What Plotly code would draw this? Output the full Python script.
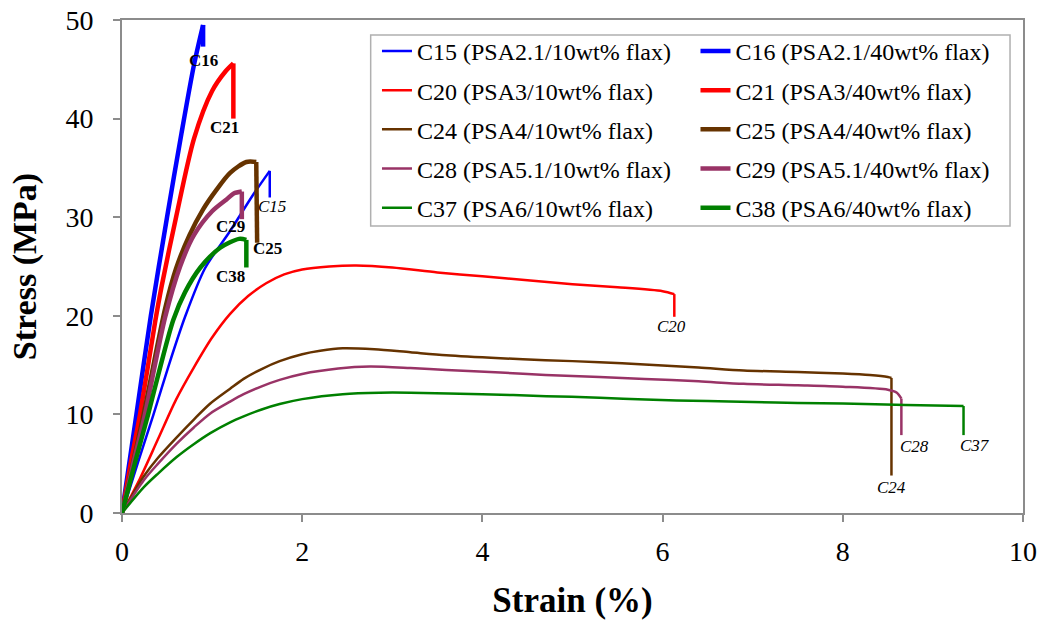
import plotly.graph_objects as go

# ---- data ----
c15_x = [0, 0.18, 0.35, 0.52, 0.70, 0.92, 1.2, 1.45, 1.64, 1.64]
c15_y = [0, 5.2, 10, 15, 19.9, 24.8, 28.6, 32.2, 34.7, 32.0]

c16_x = [0, 0.16, 0.32, 0.5, 0.66, 0.8, 0.9, 0.9]
c16_y = [0, 10, 20, 30, 38.5, 45.5, 49.5, 47.3]

c20_x = [0, 0.2, 0.4, 0.6, 0.8, 1.0, 1.2, 1.4, 1.6, 1.8, 2.0, 2.3, 2.6, 3.0, 3.5, 4.0, 4.5, 5.0, 5.5, 6.0, 6.13, 6.13]
c20_y = [0, 3.5, 7.5, 11.5, 14.8, 17.8, 20.2, 22.0, 23.3, 24.2, 24.7, 25.0, 25.1, 24.9, 24.4, 24.0, 23.6, 23.2, 22.9, 22.5, 22.2, 19.9]

c21_x = [0, 0.1, 0.2, 0.37, 0.44, 0.6, 0.8, 1.0, 1.15, 1.236, 1.236]
c21_y = [0, 5.2, 10, 19.5, 23, 30, 38, 42.8, 44.8, 45.6, 40.0]

c24_x = [0, 0.12, 0.24, 0.4, 0.61, 0.8, 0.98, 1.2, 1.35, 1.55, 1.75, 2.0, 2.2, 2.45, 2.8, 3.2, 3.6, 4.2, 4.7, 5.3, 5.8, 6.4, 6.9, 7.5, 8.0, 8.3, 8.5, 8.54, 8.54]
c24_y = [0, 1.9, 3.7, 5.6, 7.7, 9.5, 11.1, 12.6, 13.6, 14.6, 15.4, 16.1, 16.45, 16.7, 16.6, 16.3, 16.0, 15.7, 15.5, 15.3, 15.05, 14.75, 14.45, 14.3, 14.15, 14.0, 13.8, 13.7, 3.8]

c25_x = [0, 0.12, 0.24, 0.36, 0.48, 0.6, 0.75, 0.9, 1.05, 1.2, 1.38, 1.49, 1.50]
c25_y = [0, 5, 10, 15.5, 20.8, 24.8, 28.2, 30.8, 32.8, 34.5, 35.6, 35.6, 27.4]

c28_x = [0, 0.24, 0.4, 0.61, 0.8, 0.98, 1.2, 1.35, 1.55, 1.75, 2.0, 2.4, 2.75, 3.2, 3.6, 4.2, 4.7, 5.3, 5.8, 6.4, 6.9, 7.5, 8.0, 8.5, 8.6, 8.65, 8.65]
c28_y = [0, 3.3, 5.0, 7.06, 8.7, 10.1, 11.3, 12.05, 12.85, 13.5, 14.1, 14.65, 14.85, 14.7, 14.5, 14.25, 14.0, 13.8, 13.6, 13.35, 13.1, 12.95, 12.8, 12.5, 12.2, 11.6, 7.9]

c29_x = [0, 0.12, 0.255, 0.37, 0.48, 0.645, 0.8, 1.0, 1.16, 1.24, 1.33, 1.33]
c29_y = [0, 4.8, 10, 15.2, 19.9, 25.0, 28.2, 30.6, 31.8, 32.4, 32.6, 29.8]

c37_x = [0, 0.24, 0.4, 0.61, 0.8, 0.98, 1.2, 1.35, 1.55, 1.75, 2.0, 2.45, 2.86, 3.2, 4.0, 4.71, 5.3, 5.81, 6.5, 7.0, 7.5, 8.0, 8.7, 9.34, 9.34]
c37_y = [0, 2.6, 4.0, 5.7, 7.0, 8.1, 9.2, 9.8, 10.5, 11.05, 11.55, 12.05, 12.2, 12.2, 12.05, 11.85, 11.7, 11.5, 11.35, 11.25, 11.15, 11.1, 10.95, 10.85, 7.9]

c38_x = [0, 0.15, 0.29, 0.43, 0.57, 0.7, 0.87, 1.09, 1.3, 1.38, 1.38]
c38_y = [0, 5.3, 10, 15, 19.6, 22.4, 24.9, 26.9, 27.8, 27.7, 24.9]

names_10 = ["C15 (PSA2.1/10wt% flax)", "C20 (PSA3/10wt% flax)", "C24 (PSA4/10wt% flax)",
            "C28 (PSA5.1/10wt% flax)", "C37 (PSA6/10wt% flax)"]
names_40 = ["C16 (PSA2.1/40wt% flax)", "C21 (PSA3/40wt% flax)", "C25 (PSA4/40wt% flax)",
            "C29 (PSA5.1/40wt% flax)", "C38 (PSA6/40wt% flax)"]

# curve end labels: text, strain, stress, bold?
label_text = ["C16", "C21", "C15", "C29", "C25", "C38", "C20", "C24", "C28", "C37"]
label_x = [0.90, 1.14, 1.66, 1.20, 1.62, 1.20, 6.10, 8.54, 8.80, 9.47]
label_y = [45.9, 39.1, 31.1, 29.1, 26.8, 24.0, 18.9, 2.6, 6.7, 6.8]
label_bold = [True, True, False, True, True, True, False, False, False, False]

colors = ["#0000FF", "#FF0000", "#663300", "#993366", "#008000"]

thin = [(c15_x, c15_y), (c20_x, c20_y), (c24_x, c24_y), (c28_x, c28_y), (c37_x, c37_y)]
thick = [(c16_x, c16_y), (c21_x, c21_y), (c25_x, c25_y), (c29_x, c29_y), (c38_x, c38_y)]

fig = go.Figure()


def add_curve(xs, ys, name, color, width, legend, group):
    # smooth loading part, then the straight drop at failure
    fig.add_trace(go.Scatter(x=xs[:-1], y=ys[:-1], mode="lines", name=name,
                             line=dict(color=color, width=width, shape="spline", smoothing=0.8),
                             legend=legend, legendgroup=group))
    fig.add_trace(go.Scatter(x=xs[-2:], y=ys[-2:], mode="lines", name=name,
                             line=dict(color=color, width=width),
                             legend=legend, legendgroup=group, showlegend=False))


for i, (xs, ys) in enumerate(thin):
    add_curve(xs, ys, names_10[i], colors[i], 2.5, "legend", "a%d" % i)
for i, (xs, ys) in enumerate(thick):
    add_curve(xs, ys, names_40[i], colors[i], 4.5, "legend2", "b%d" % i)

serif = "Liberation Serif, Times New Roman, serif"
for t, x, y, b in zip(label_text, label_x, label_y, label_bold):
    fig.add_annotation(x=x, y=y, text=("<b>%s</b>" % t) if b else ("<i>%s</i>" % t),
                       showarrow=False, font=dict(family=serif, size=17, color="black"),
                       xanchor="center", yanchor="middle")

legend_common = dict(orientation="v", xanchor="left", yanchor="top",
                     bgcolor="rgba(0,0,0,0)", borderwidth=0,
                     font=dict(family=serif, size=24, color="black"),
                     tracegroupgap=5, itemwidth=30)

fig.update_layout(
    width=1042, height=620,
    margin=dict(l=122, r=19, t=20, b=107, autoexpand=False),
    paper_bgcolor="white", plot_bgcolor="white",
    font=dict(family=serif, color="black"),
    showlegend=True,
    legend=dict(x=0.283, y=0.982, **legend_common),
    legend2=dict(x=0.6365, y=0.982, **legend_common),
    shapes=[dict(type="rect", xref="paper", yref="paper",
                 x0=0.276, x1=0.9856, y0=0.582, y1=0.9696,
                 line=dict(color="#b0b0b0", width=1.5), fillcolor="white", layer="below")],
    xaxis=dict(range=[0, 10], tickvals=[0, 2, 4, 6, 8, 10], showgrid=False, zeroline=False,
               showline=True, linecolor="#8c8c8c", linewidth=2, mirror=True, automargin=False,
               ticks="outside", ticklen=7, tickcolor="#8c8c8c", tickwidth=1.5, ticklabelstandoff=5,
               tickfont=dict(family=serif, size=28, color="black"),
               title=dict(text="<b>Strain (%)</b>", font=dict(family=serif, size=35, color="black"), standoff=27)),
    yaxis=dict(range=[0, 50], tickvals=[0, 10, 20, 30, 40, 50], showgrid=False, zeroline=False,
               showline=True, linecolor="#8c8c8c", linewidth=2, mirror=True, automargin=False,
               ticks="outside", ticklen=7, tickcolor="#8c8c8c", tickwidth=1.5, ticklabelstandoff=14,
               tickfont=dict(family=serif, size=28, color="black"),
               title=dict(text="<b>Stress (MPa)</b>", font=dict(family=serif, size=34, color="black"), standoff=19)),
)

# remove the browser's default 8px page margin so the figure sits at the window origin
fig.write_html("out.html", config={"displayModeBar": False},
               post_script="document.body.style.margin='0';")
